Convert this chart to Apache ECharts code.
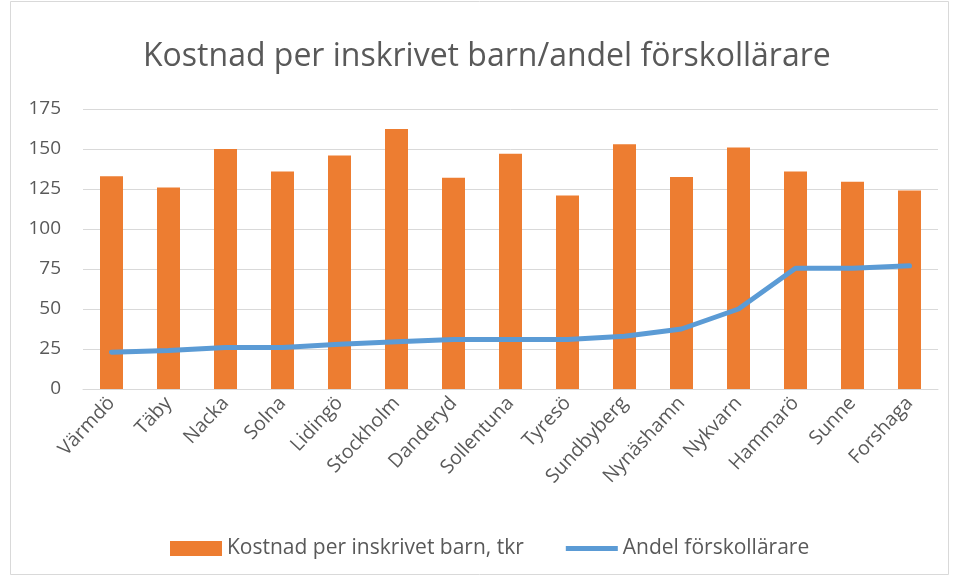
<!DOCTYPE html>
<html>
<head>
<meta charset="utf-8">
<script src="https://cdn.jsdelivr.net/npm/echarts@6/dist/echarts.min.js"></script>
<style>
  html, body { margin: 0; padding: 0; background: #fff; }
  #chart { width: 957px; height: 578px; }
</style>
</head>
<body>
<div id="chart"></div>
<script>
// Kommuner (x-axel)
const kommuner = ['Värmdö', 'Täby', 'Nacka', 'Solna', 'Lidingö', 'Stockholm', 'Danderyd', 'Sollentuna',
    'Tyresö', 'Sundbyberg', 'Nynäshamn', 'Nykvarn', 'Hammarö', 'Sunne', 'Forshaga'];
// Kostnad per inskrivet barn, tkr
const kostnad = [133, 126, 150, 136, 146, 162.5, 132, 147, 121, 153, 132.5, 151, 136, 129.5, 124];
// Andel förskollärare
const andel = [23, 24, 26, 26, 28, 29.5, 31, 31, 31, 33, 37.5, 50, 75.5, 75.5, 77];
// Y-axelns steg
const yMin = 0, yMax = 175, yStep = 25;

const textColor = '#595959';
const font = 'Open Sans, sans-serif';

const myChart = echarts.init(document.getElementById('chart'));

const option = {
    animation: false,
    backgroundColor: '#fff',
    title: {
        text: 'Kostnad per inskrivet barn/andel förskollärare',
        left: 138,
        top: 36,
        textStyle: { color: textColor, fontSize: 32, fontWeight: 'normal', fontFamily: font }
    },
    graphic: [{
        type: 'rect',
        shape: { x: 10.5, y: 1.5, width: 938, height: 573 },
        style: { fill: 'none', stroke: '#D9D9D9', lineWidth: 1 },
        silent: true
    }],
    legend: {
        bottom: 14,
        left: 165,
        itemWidth: 52,
        itemHeight: 15,
        itemGap: 42,
        textStyle: { color: textColor, fontSize: 21, fontFamily: font },
        data: [
            { name: 'Kostnad per inskrivet barn, tkr', icon: 'rect' },
            { name: 'Andel förskollärare', icon: 'path://M0 0h52v5H0z' }
        ]
    },
    grid: { left: 83, right: 19, top: 109, bottom: 189 },
    xAxis: {
        type: 'category',
        data: kommuner,
        axisLine: { lineStyle: { color: '#D9D9D9', width: 1 } },
        axisTick: { show: false },
        axisLabel: {
            rotate: 47,
            interval: 0,
            color: textColor,
            fontSize: 19.5,
            fontFamily: font,
            margin: 11
        }
    },
    yAxis: {
        type: 'value',
        min: yMin,
        max: yMax,
        interval: yStep,
        axisLine: { show: false },
        axisTick: { show: false },
        splitLine: { lineStyle: { color: '#D9D9D9', width: 1 } },
        axisLabel: { color: textColor, fontSize: 19, fontFamily: font, margin: 22 }
    },
    series: [
        {
            name: 'Kostnad per inskrivet barn, tkr',
            type: 'bar',
            data: kostnad,
            barWidth: 23,
            itemStyle: { color: '#ED7D31' }
        },
        {
            name: 'Andel förskollärare',
            type: 'line',
            data: andel,
            symbol: 'none',
            lineStyle: { color: '#5B9BD5', width: 5, cap: 'round', join: 'round' },
            itemStyle: { color: '#5B9BD5' }
        }
    ]
};

myChart.setOption(option);
</script>
</body>
</html>
